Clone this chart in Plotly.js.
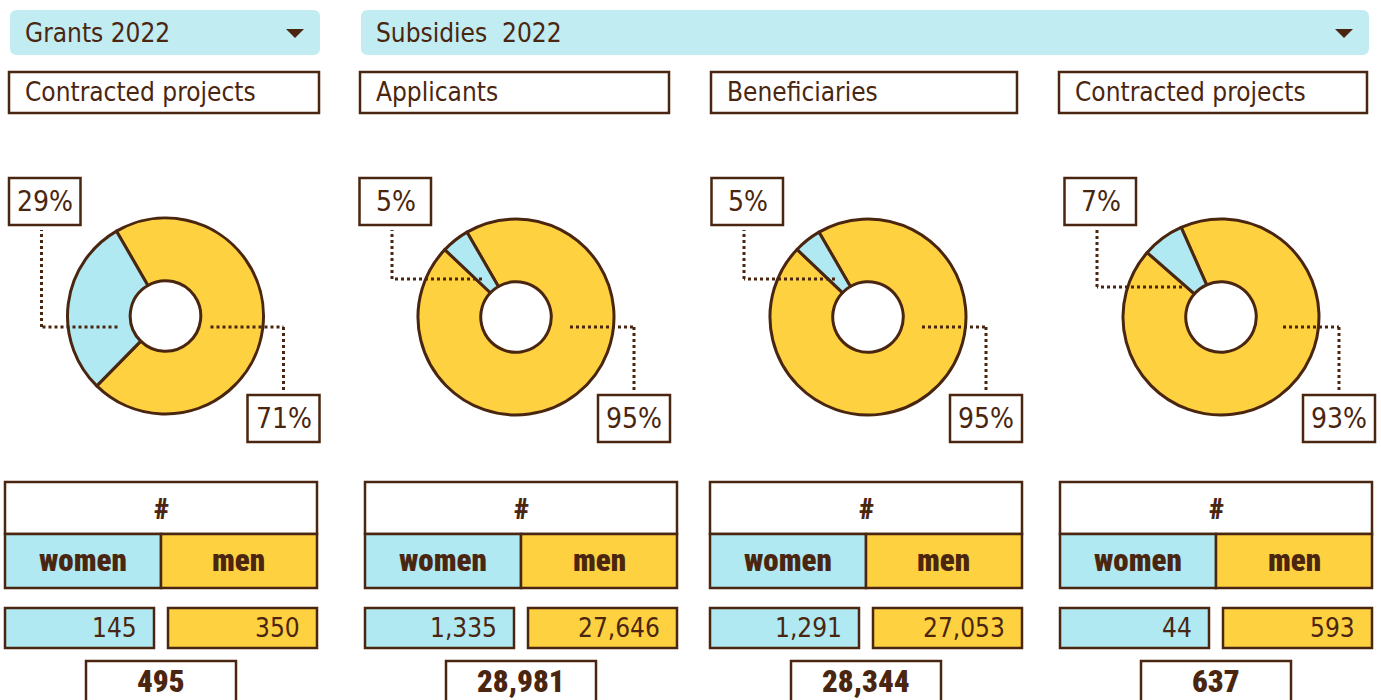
<!DOCTYPE html>
<html>
<head>
<meta charset="utf-8">
<script src="https://cdn.plot.ly/plotly-3.0.1.min.js"></script>
<style>
  html, body { margin: 0; padding: 0; background: #ffffff; }
  #chart { width: 1381px; height: 700px; }
  text.annotation-text { font-stretch: condensed; }
</style>
</head>
<body>
<div id="chart"></div>
<script>
// ---------- DATA ----------
const dropdownLabels = ['Grants 2022', 'Subsidies\u00a0\u00a02022'];
const panelTitles = ['Contracted projects', 'Applicants', 'Beneficiaries', 'Contracted projects'];
const women = [145, 1335, 1291, 44];
const men = [350, 27646, 27053, 593];
const totals = [495, 28981, 28344, 637];
const headerLabel = '#';
const groupLabels = ['women', 'men'];

// ---------- STYLE ----------
const W = 1381, H = 700;
const BROWN = '#4a2610';
const CYAN = '#b0e9f1';
const CYAN_DD = '#c0ecf2';
const YELLOW = '#fed141';
const TITLE_FONT = 'DejaVu Sans Condensed, DejaVu Sans, sans-serif';
const BOLD_FONT = 'Roboto, Liberation Sans, sans-serif';

const X = px => px / W;
const Y = py => 1 - py / H;

// layout geometry (pixels)
const dropdownBoxes = [[10, 320], [361, 1369]];
const titleBoxes = [[9, 319], [360, 669], [711, 1017], [1059, 1367]];
const donutCenters = [[165.5, 316], [516, 317], [868, 317], [1221, 317]];
const donutRadius = 98;
const rotations = [-30, -30, -30, -24];
const womenLeader = [[327, -48], [279, -34], [279, -33], [287, -39]]; // [y, start dx]
const menLeaderStart = [45, 54, 54, 62];
const tableBoxes = [[5, 317], [365, 677], [710, 1022], [1060, 1372]];

const shapes = [];
const annotations = [];
const traces = [];

function rect(x0, y0, x1, y1, fill, lw) {
  shapes.push({type: 'rect', xref: 'paper', yref: 'paper',
    x0: X(x0), x1: X(x1), y0: Y(y1), y1: Y(y0),
    fillcolor: fill, line: {color: BROWN, width: lw === undefined ? 2.5 : lw}, layer: 'above'});
}
function roundRect(x0, y0, x1, y1, r, fill) {
  const p = `M ${X(x0 + r)},${Y(y0)} L ${X(x1 - r)},${Y(y0)} Q ${X(x1)},${Y(y0)} ${X(x1)},${Y(y0 + r)} ` +
            `L ${X(x1)},${Y(y1 - r)} Q ${X(x1)},${Y(y1)} ${X(x1 - r)},${Y(y1)} L ${X(x0 + r)},${Y(y1)} ` +
            `Q ${X(x0)},${Y(y1)} ${X(x0)},${Y(y1 - r)} L ${X(x0)},${Y(y0 + r)} Q ${X(x0)},${Y(y0)} ${X(x0 + r)},${Y(y0)} Z`;
  shapes.push({type: 'path', xref: 'paper', yref: 'paper', path: p, fillcolor: fill, line: {width: 0}, layer: 'below'});
}
function line(x0, y0, x1, y1, dash) {
  shapes.push({type: 'line', xref: 'paper', yref: 'paper', x0: X(x0), x1: X(x1), y0: Y(y0), y1: Y(y1),
    line: {color: BROWN, width: 3, dash: dash || 'solid'}, layer: 'above'});
}
function text(t, x, y, size, anchor, family, weight) {
  annotations.push({xref: 'paper', yref: 'paper', x: X(x), y: Y(y), text: t, showarrow: false,
    xanchor: anchor || 'center', yanchor: 'middle',
    font: {family: family || TITLE_FONT, size: size, color: BROWN, weight: weight || 'normal'}});
}
const fmt = v => v.toLocaleString('en-US');

// dropdowns
dropdownLabels.forEach((lab, i) => {
  const [x0, x1] = dropdownBoxes[i];
  roundRect(x0, 10, x1, 55, 7, CYAN_DD);
  text(lab, x0 + 13, 33, 26, 'left');
  const tx = x1 - 25;
  shapes.push({type: 'path', xref: 'paper', yref: 'paper',
    path: `M ${X(tx - 9)},${Y(29)} L ${X(tx + 9)},${Y(29)} L ${X(tx)},${Y(38)} Z`,
    fillcolor: BROWN, line: {width: 0}});
});

// panels
panelTitles.forEach((title, i) => {
  const [tx0, tx1] = titleBoxes[i];
  rect(tx0, 72, tx1, 113, 'rgba(0,0,0,0)');
  text(title, tx0 + 14, 92, 26, 'left');

  const [cx, cy] = donutCenters[i];
  const r = donutRadius;
  traces.push({
    type: 'pie', values: [men[i], women[i]], labels: groupLabels.slice().reverse(),
    sort: false, direction: 'clockwise', rotation: rotations[i], hole: 0.36,
    marker: {colors: [YELLOW, CYAN], line: {color: BROWN, width: 3}},
    textinfo: 'none', hoverinfo: 'skip', showlegend: false,
    domain: {x: [X(cx - r), X(cx + r)], y: [Y(cy + r), Y(cy - r)]}
  });

  const tot = women[i] + men[i];
  const pw = Math.round(women[i] / tot * 100) + '%';
  const pm = Math.round(men[i] / tot * 100) + '%';

  // women leader + label
  const [wy, wdx] = womenLeader[i];
  line(cx + wdx, wy, cx - 124, wy, 'dot');
  line(cx - 124, wy, cx - 124, 230, 'dot');
  rect(cx - 156.5, 178, cx - 85, 225, '#ffffff');
  text(pw, cx - 120.5, 201, 28);

  // men leader + label
  line(cx + menLeaderStart[i], 327, cx + 118, 327, 'dot');
  line(cx + 118, 327, cx + 118, 390, 'dot');
  rect(cx + 82, 395, cx + 154, 442, '#ffffff');
  text(pm, cx + 118, 418, 28);

  // table
  const [bx0, bx1] = tableBoxes[i];
  const mid = (bx0 + bx1) / 2;
  rect(bx0, 482, bx1, 534, '#ffffff');
  text(headerLabel, mid, 508, 30, 'center', BOLD_FONT, 900);
  rect(bx0, 534, mid, 588, CYAN);
  rect(mid, 534, bx1, 588, YELLOW);
  text(groupLabels[0], (bx0 + mid) / 2, 560, 31, 'center', BOLD_FONT, 900);
  text(groupLabels[1], (mid + bx1) / 2, 560, 31, 'center', BOLD_FONT, 900);

  rect(bx0, 608, bx0 + 149, 648, CYAN);
  rect(bx1 - 149, 608, bx1, 648, YELLOW);
  text(fmt(women[i]), bx0 + 149 - 15, 628, 26, 'right');
  text(fmt(men[i]), bx1 - 15, 628, 26, 'right');

  rect(mid - 75, 661, mid + 75, 705, '#ffffff');
  text(fmt(totals[i]), mid, 681, 31, 'center', BOLD_FONT, 900);
});

const layout = {
  width: W, height: H, autosize: false,
  margin: {l: 0, r: 0, t: 0, b: 0},
  paper_bgcolor: '#ffffff', plot_bgcolor: '#ffffff',
  showlegend: false,
  shapes: shapes, annotations: annotations
};

Plotly.newPlot('chart', traces, layout, {displayModeBar: false, staticPlot: true});
</script>
</body>
</html>
